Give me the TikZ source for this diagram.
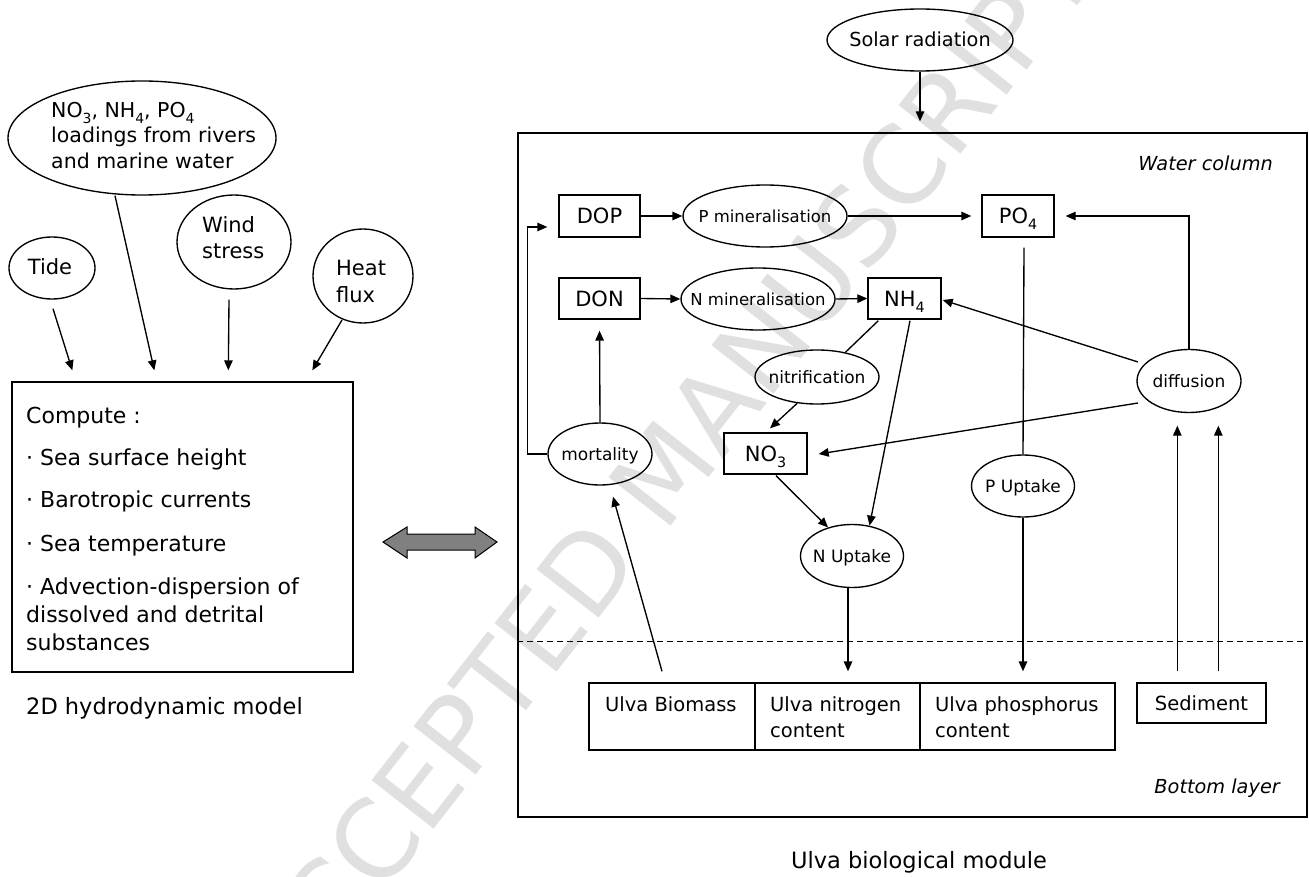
\documentclass[tikz,border=0pt]{standalone}
\usepackage{fontspec}
\setmainfont{DejaVu Sans}
\usetikzlibrary{shapes.geometric,arrows.meta,calc}
\newcommand\sbx[1]{\raisebox{-0.28em}{\scalebox{0.68}{#1}}}
\begin{document}
\begin{tikzpicture}[x=1pt,y=-1pt,
  lw/.style={line width=1.35pt},
  ell/.style={draw,ellipse,lw,inner sep=0pt},
  bx/.style={draw,rectangle,lw,inner sep=0pt,text depth=0pt},
  arr/.style={lw,-{Triangle[length=10pt,width=8.5pt]}},
  ln/.style={lw},
  tx/.style={inner sep=0pt},
  lab/.style={inner sep=0pt,text depth=0pt},
  fload/.style={font=\fontsize{20.5}{25}\selectfont},
  fwind/.style={font=\fontsize{21}{26}\selectfont},
  fbig/.style={font=\fontsize{22}{28}\selectfont},
  fmod/.style={font=\fontsize{22.5}{28}\selectfont},
  fbx/.style={font=\fontsize{21}{25}\selectfont},
  fulva/.style={font=\fontsize{19.5}{25}\selectfont},
  fsm/.style={font=\fontsize{17}{20}\selectfont},
  fmin/.style={font=\fontsize{16.5}{20}\selectfont},
  fsolar/.style={font=\fontsize{19.3}{24}\selectfont},
  fit/.style={font=\itshape\fontsize{19.3}{24}\selectfont},
]
\useasboundingbox (0,0) rectangle (1309,877);

% watermark
\node[text=black!12, font=\fontsize{108}{108}\selectfont, rotate=52, inner sep=0pt] (wm) at (665,470) {ACCEPTED MANUSCRIPT};

% ---------- left: hydrodynamic model ----------
\node[ell,minimum width=268pt,minimum height=114pt] (load) at (142,138) {};
\node[tx,fload,anchor=base west] (load1) at (51,118) {NO\sbx{3}, NH\sbx{4}, PO\sbx{4}};
\node[tx,fload,anchor=base west] (load2) at (51,143) {loadings from rivers};
\node[tx,fload,anchor=base west] (load3) at (51,169) {and marine water};

\node[ell,minimum width=86pt,minimum height=62pt] (tide) at (52,268) {};
\node[tx,fbx,anchor=base] (tidet) at (50,275) {Tide};

\node[ell,minimum width=114pt,minimum height=94pt] (wind) at (234,242) {};
\node[tx,fwind,anchor=base west] (wind1) at (202,233) {Wind};
\node[tx,fwind,anchor=base west] (wind2) at (202,259) {stress};

\node[ell,minimum width=100pt,minimum height=94pt] (heat) at (363,276) {};
\node[tx,fwind,anchor=base west] (heat1) at (336,276) {Heat};
\node[tx,fwind,anchor=base west] (heat2) at (336,302) {flux};

\node[bx,minimum width=341pt,minimum height=290pt] (hydro) at (182.5,527) {};
\node[tx,fbig,anchor=base west] (c0) at (26,423) {Compute :};
\node[tx,fbig,anchor=base west] (c1) at (26,465) {· Sea surface height};
\node[tx,fbig,anchor=base west] (c2) at (26,507) {· Barotropic currents};
\node[tx,fbig,anchor=base west] (c3) at (26,551) {· Sea temperature};
\node[tx,fbig,anchor=base west] (c4) at (26,594) {· Advection-dispersion of};
\node[tx,fbig,anchor=base west] (c5) at (26,622) {dissolved and detrital};
\node[tx,fbig,anchor=base west] (c6) at (26,650) {substances};
\node[tx,fmod,anchor=base west] (hydrolab) at (26,714) {2D hydrodynamic model};

\draw[arr] ($(tide.south)+(1,9)$) -- ($(hydro.north west)+(61,-11)$);
\draw[arr] ($(load.south)+(-27,0)$) -- ($(hydro.north west)+(143,-11)$);
\draw[arr] ($(wind.south)+(-5,10)$) -- ($(hydro.north west)+(217,-11)$);
\draw[arr] ($(heat.center)+(-21,44)$) -- ($(hydro.north west)+(301,-11)$);

% coupling double arrow
\draw[line width=1pt, fill=black!50] (383,542) -- (407,527) -- (407,534) -- (475,534) -- (475,527) -- (497,542) -- (475,558) -- (475,550) -- (407,550) -- (407,558) -- cycle;

% ---------- right: Ulva biological module ----------
\node[ell,minimum width=186pt,minimum height=62pt] (solar) at (920,40) {};
\node[tx,fsolar,anchor=base] (solart) at (920,47) {Solar radiation};

\node[bx,minimum width=789pt,minimum height=684pt] (bio) at (912.5,475) {};
\draw[arr] (solar.south) -- ($(bio.north)+(7.5,-11)$);
\draw[line width=1pt, dash pattern=on 6pt off 4pt] ($(bio.west)+(0,166)$) -- ($(bio.east)+(0,166)$);
\node[tx,fit,anchor=base east] (wcol) at (1273,171) {Water column};
\node[tx,fit,anchor=base east] (blay) at (1280,793) {Bottom layer};
\node[tx,fmod,anchor=base] (biolab) at (919,868) {Ulva biological module};

\node[bx,fbx,minimum width=81pt,minimum height=42pt] (dop) at (599.5,216) {DOP};
\node[bx,fbx,minimum width=81pt,minimum height=41pt] (don) at (599.5,298.5) {DON};
\node[bx,fbx,minimum width=72pt,minimum height=42pt] (po4) at (1018,216) {PO\sbx{4}};
\node[bx,fbx,minimum width=73pt,minimum height=41pt] (nh4) at (904.5,298.5) {NH\sbx{4}};
\node[bx,fbx,minimum width=83pt,minimum height=41pt] (no3) at (765.5,453.5) {NO\sbx{3}};

\node[ell,minimum width=164pt,minimum height=62pt] (pmin) at (765,216) {};
\node[lab,fmin] (pmint) at (pmin) {P mineralisation};
\node[ell,minimum width=154pt,minimum height=62pt] (nmin) at (758,299) {};
\node[lab,fmin] (nmint) at (nmin) {N mineralisation};
\node[ell,minimum width=124pt,minimum height=54pt] (nitr) at (817,377) {};
\node[lab,fsm] (nitrt) at (nitr) {nitrification};
\node[ell,minimum width=104pt,minimum height=62pt] (mort) at (600,454) {};
\node[lab,fsm] (mortt) at (mort) {mortality};
\node[ell,minimum width=103pt,minimum height=63pt] (nupt) at (852,556) {};
\node[lab,fsm] (nuptt) at (nupt) {N Uptake};
\node[ell,minimum width=103pt,minimum height=62pt] (pupt) at (1023,486) {};
\node[lab,fsm] (puptt) at (pupt) {P Uptake};
\node[ell,minimum width=104pt,minimum height=63pt] (diff) at (1189,381) {};
\node[lab,fsm] (difft) at (diff) {diffusion};

\node[bx,minimum width=166pt,minimum height=67pt] (biomass) at (672,716.5) {};
\node[bx,minimum width=165pt,minimum height=67pt] (nitro) at (837.5,716.5) {};
\node[bx,minimum width=195pt,minimum height=67pt] (phos) at (1017.5,716.5) {};
\node[bx,fulva,minimum width=129pt,minimum height=40pt] (sed) at (1201.5,703) {Sediment};
\node[tx,fulva,anchor=base west] (biomasst) at (605,711) {Ulva Biomass};
\node[tx,fulva,anchor=base west] (nitro1) at (770,711) {Ulva nitrogen};
\node[tx,fulva,anchor=base west] (nitro2) at (770,737) {content};
\node[tx,fulva,anchor=base west] (phos1) at (935,711) {Ulva phosphorus};
\node[tx,fulva,anchor=base west] (phos2) at (935,737) {content};

% connectors
\draw[arr] (dop.east) -- (pmin.west);
\draw[arr, shorten >=10pt] (pmin.east) -- (po4.west);
\draw[arr, shorten >=11pt] (diff.north) |- (po4.east);
\draw[ln] ($(po4.south)+(6,10)$) -- (pupt.north);
\draw[arr, shorten >=11pt] (pupt.south) -- (pupt.south |- phos.north);
\draw[arr] (don.east) -- (nmin.west);
\draw[arr] (nmin.east) -- (nh4.west);
\draw[ln] ($(nh4.south west)+(11,1)$) -- (nitr.41);
\draw[arr] (nitr.233) -- ($(no3.north)+(4.5,-4)$);
\draw[arr] ($(nh4.south)+(5.5,1)$) -- (nupt.60);
\draw[arr] ($(no3.south)+(10.5,1)$) -- (nupt.130);
\coordinate (nuo) at ($(nupt.south)+(-4,0)$);
\draw[arr, shorten >=11pt] (nuo) -- (nuo |- nitro.north);
\draw[arr] ($(diff.center)+(-51,-19)$) -- ($(nh4.east)+(1,1.5)$);
\draw[arr] ($(diff.center)+(-51,22)$) -- ($(no3.east)+(11,0.5)$);
\coordinate (s1) at ($(sed.north west)+(41,-11)$);
\coordinate (s2) at ($(sed.north west)+(82,-11)$);
\draw[arr, shorten >=12.5pt] (s1) -- (s1 |- diff.south);
\draw[arr, shorten >=12.5pt] (s2) -- (s2 |- diff.south);
\draw[arr] ($(biomass.north)+(-10,-11)$) -- ($(mort.south)+(13,11)$);
\draw[arr, shorten >=11pt] (mort.north) -- (don.south);
\draw[arr] (mort.west) -- ++(-20,0) |- ($(dop.west)+(-11,11)$);
\end{tikzpicture}
\end{document}
